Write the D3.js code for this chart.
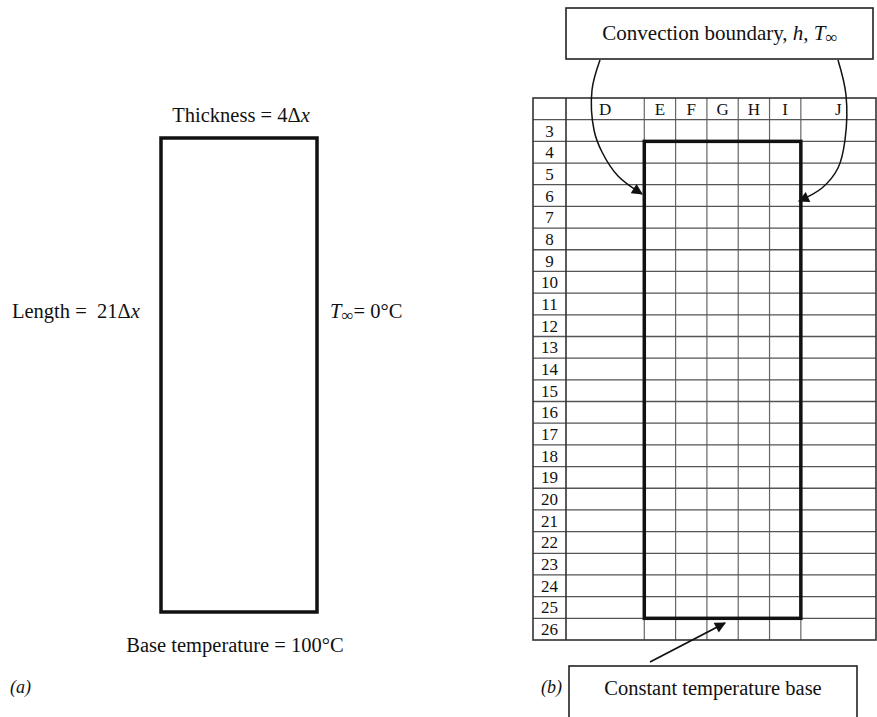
<!DOCTYPE html>
<html>
<head>
<meta charset="utf-8">
<script src="https://cdn.jsdelivr.net/npm/d3@7"></script>
<style>
  body { margin: 0; background: #fff; }
  svg { display: block; }
  text { font-family: "Liberation Serif", "Times New Roman", serif; fill: #111; }
</style>
</head>
<body>
<div id="chart"></div>
<script>
// spreadsheet columns and rows of panel (b)
var columns = ['D', 'E', 'F', 'G', 'H', 'I', 'J'];
var columnUnits = [2.5, 1, 1, 1, 1, 1, 2.4];
var rows = d3.range(3, 27);
// thick outline of the fin in the sheet
var finCols = ['E', 'I'];
var finRows = [4, 25];

// panel (a) labels
var thicknessLabel = ['Thickness = 4', 'Δ', 'x'];
var lengthLabel = ['Length =  21', 'Δ', 'x'];
var baseLabel = 'Base temperature = 100°C';
var topBoxLabel = 'Convection boundary, ';
var bottomBoxLabel = 'Constant temperature base';

var width = 877, height = 717;

var svg = d3
  .select('#chart')
  .append('svg')
  .attr('width', width)
  .attr('height', height);

var defs = svg.append('defs');
defs
  .append('marker')
  .attr('id', 'arrow')
  .attr('viewBox', '0 0 10 10')
  .attr('refX', 9)
  .attr('refY', 5)
  .attr('markerWidth', 15)
  .attr('markerHeight', 11)
  .attr('markerUnits', 'userSpaceOnUse')
  .attr('orient', 'auto')
  .append('path')
  .attr('d', 'M0,0L10,5L0,10z')
  .attr('fill', '#111');

// ---------- panel (a) ----------
var a = svg.append('g');

a.append('rect')
  .attr('x', 161)
  .attr('y', 138)
  .attr('width', 156)
  .attr('height', 474)
  .attr('fill', 'none')
  .attr('stroke', '#111')
  .attr('stroke-width', 3.5);

var t1 = a.append('text').attr('x', 241).attr('y', 122).attr('text-anchor', 'middle').attr('font-size', 20.5);
t1.append('tspan').text(thicknessLabel[0]);
t1.append('tspan').text(thicknessLabel[1]);
t1.append('tspan').attr('font-style', 'italic').text(thicknessLabel[2]);

var t2 = a.append('text').attr('x', 12).attr('y', 318).attr('font-size', 20.5).attr('xml:space', 'preserve');
t2.append('tspan').text(lengthLabel[0]);
t2.append('tspan').text(lengthLabel[1]);
t2.append('tspan').attr('font-style', 'italic').text(lengthLabel[2]);

var t3 = a.append('text').attr('x', 330).attr('y', 318).attr('font-size', 20.5);
t3.append('tspan').attr('font-style', 'italic').text('T');
t3.append('tspan').attr('font-size', 17).attr('dy', 3).text('∞');
t3.append('tspan').attr('dy', -3).text('= 0°C');

a.append('text')
  .attr('x', 235)
  .attr('y', 652)
  .attr('text-anchor', 'middle')
  .attr('font-size', 20.5)
  .text(baseLabel);

a.append('text')
  .attr('x', 10)
  .attr('y', 693)
  .attr('font-size', 18)
  .attr('font-style', 'italic')
  .text('(a)');

// ---------- panel (b) ----------
var b = svg.append('g');

var left = 533, hdrW = 33, right = 876;
var unit = (right - left - hdrW) / d3.sum(columnUnits);
var edges = [left + hdrW];
columnUnits.forEach(function (u, i) { edges.push(edges[i] + u * unit); });
var colX = {};
columns.forEach(function (c, i) { colX[c] = [edges[i], edges[i + 1]]; });

var y = d3
  .scaleBand()
  .domain(['hdr'].concat(rows))
  .range([98, 640]);

// thin grid lines
b.append('g')
  .selectAll('line')
  .data(edges.slice(1, -1))
  .enter()
  .append('line')
  .attr('x1', function (d) { return d; })
  .attr('x2', function (d) { return d; })
  .attr('y1', 98)
  .attr('y2', 640)
  .attr('stroke', '#666')
  .attr('stroke-width', 1.2);

b.append('g')
  .selectAll('line')
  .data(rows)
  .enter()
  .append('line')
  .attr('x1', left)
  .attr('x2', right)
  .attr('y1', function (d) { return y(d); })
  .attr('y2', function (d) { return y(d); })
  .attr('stroke', '#555')
  .attr('stroke-width', 1.3);

// header column / outer border
b.append('rect')
  .attr('x', left)
  .attr('y', 98)
  .attr('width', right - left)
  .attr('height', 640 - 98)
  .attr('fill', 'none')
  .attr('stroke', '#333')
  .attr('stroke-width', 1.6);
b.append('line')
  .attr('x1', left + hdrW).attr('x2', left + hdrW)
  .attr('y1', 98).attr('y2', 640)
  .attr('stroke', '#333').attr('stroke-width', 1.6);

// column headers
b.append('g')
  .selectAll('text')
  .data(columns)
  .enter()
  .append('text')
  .attr('x', function (d) { return (colX[d][0] + colX[d][1]) / 2; })
  .attr('y', y('hdr') + y.bandwidth() / 2 + 6)
  .attr('text-anchor', 'middle')
  .attr('font-size', 17)
  .text(function (d) { return d; });

// row numbers
b.append('g')
  .selectAll('text')
  .data(rows)
  .enter()
  .append('text')
  .attr('x', left + hdrW / 2)
  .attr('y', function (d) { return y(d) + y.bandwidth() / 2 + 6; })
  .attr('text-anchor', 'middle')
  .attr('font-size', 17)
  .text(function (d) { return d; });

// fin outline
var fx0 = colX[finCols[0]][0], fx1 = colX[finCols[1]][1];
var fy0 = y(finRows[0]), fy1 = y(finRows[1]) + y.bandwidth();
b.append('rect')
  .attr('x', fx0)
  .attr('y', fy0)
  .attr('width', fx1 - fx0)
  .attr('height', fy1 - fy0)
  .attr('fill', 'none')
  .attr('stroke', '#111')
  .attr('stroke-width', 3.5);

// convection boundary box
b.append('rect')
  .attr('x', 566)
  .attr('y', 8)
  .attr('width', 307)
  .attr('height', 51)
  .attr('fill', '#fff')
  .attr('stroke', '#222')
  .attr('stroke-width', 1.6);
var tb = b.append('text').attr('x', 720).attr('y', 40).attr('text-anchor', 'middle').attr('font-size', 21);
tb.append('tspan').text(topBoxLabel);
tb.append('tspan').attr('font-style', 'italic').text('h');
tb.append('tspan').text(', ');
tb.append('tspan').attr('font-style', 'italic').text('T');
tb.append('tspan').attr('font-size', 17).attr('dy', 3).text('∞');

var curve = d3.line().curve(d3.curveCatmullRom.alpha(0.5));

b.append('path')
  .attr('d', curve([[600, 60], [592, 90], [594, 130], [602, 152], [618, 176], [642, 194]]))
  .attr('fill', 'none')
  .attr('stroke', '#111')
  .attr('stroke-width', 1.5)
  .attr('marker-end', 'url(#arrow)');

b.append('path')
  .attr('d', curve([[838, 60], [846, 95], [845, 140], [838, 168], [822, 188], [799, 201]]))
  .attr('fill', 'none')
  .attr('stroke', '#111')
  .attr('stroke-width', 1.5)
  .attr('marker-end', 'url(#arrow)');

// constant temperature base box
b.append('line')
  .attr('x1', 650).attr('y1', 662)
  .attr('x2', 725).attr('y2', 623)
  .attr('stroke', '#111')
  .attr('stroke-width', 1.8)
  .attr('marker-end', 'url(#arrow)');

b.append('rect')
  .attr('x', 569)
  .attr('y', 666)
  .attr('width', 288)
  .attr('height', 60)
  .attr('fill', '#fff')
  .attr('stroke', '#222')
  .attr('stroke-width', 1.6);
b.append('text')
  .attr('x', 713)
  .attr('y', 695)
  .attr('text-anchor', 'middle')
  .attr('font-size', 20.5)
  .text(bottomBoxLabel);

b.append('text')
  .attr('x', 541)
  .attr('y', 693)
  .attr('font-size', 18)
  .attr('font-style', 'italic')
  .text('(b)');
</script>
</body>
</html>
